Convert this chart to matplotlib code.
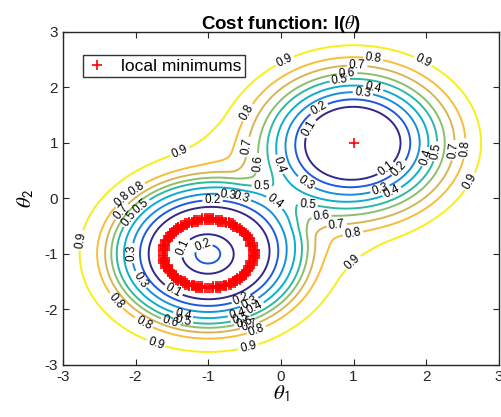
import numpy as np
import matplotlib
matplotlib.use("Agg")
import matplotlib.pyplot as plt

plt.rcParams['font.family'] = ['Liberation Sans', 'DejaVu Sans']
plt.rcParams['mathtext.fontset'] = 'stix'
plt.rcParams['axes.unicode_minus'] = False

# well centres
center_a = (-1.0, -1.0)   # ring-shaped valley
center_b = (1.0, 1.0)     # single minimum

# radial profile of each well: distance from centre -> cost
ring_r = [0.0, 0.19, 0.365, 0.62, 0.82, 0.94, 1.05, 1.16, 1.26, 1.335, 1.42, 1.53, 1.77, 2.0, 2.2, 2.5, 3.0, 3.6, 10.0]
ring_v = [0.23, 0.2, 0.1, 0.0, 0.1, 0.2, 0.3, 0.4, 0.5, 0.6, 0.7, 0.8, 0.9, 0.94, 0.963, 0.983, 0.995, 1.0, 1.0]
well_r = [0.0, 0.3, 0.45, 0.645, 0.78, 0.91, 1.03, 1.15, 1.255, 1.39, 1.54, 1.755, 2.0, 2.2, 2.5, 3.0, 3.6, 10.0]
well_v = [0.0, 0.012, 0.038, 0.1, 0.2, 0.3, 0.4, 0.5, 0.6, 0.7, 0.8, 0.9, 0.94, 0.963, 0.983, 0.995, 1.0, 1.0]
ring_radius = 0.62

levels = [0.1, 0.2, 0.3, 0.4, 0.5, 0.6, 0.7, 0.8, 0.9]
level_colors = ['#33288a', '#1f58e0', '#1690d8', '#0cadcf', '#2cb9a0',
                '#8cbf6a', '#d6b654', '#f9bd38', '#f7f018']

ticks = [-3, -2, -1, 0, 1, 2, 3]

# where the contour labels go
label_pos = [
    (-1.39, 0.84), (0.05, 2.49), (1.95, 2.45), (2.56, 0.33),
    (1.27, 2.53), (2.49, 0.9), (-0.4, 1.5),
    (1.05, 2.4), (2.33, 0.87), (-0.43, 0.92),
    (0.91, 2.25), (2.19, 0.83), (-0.33, 0.63),
    (0.81, 2.13), (2.05, 0.72), (-0.26, 0.33),
    (1.27, 1.98), (1.53, 0.11), (0.03, 0.63),
    (1.13, 1.91), (1.36, 0.18), (0.37, 0.33),
    (0.52, 1.62), (1.61, 0.56), (0.43, 1.23), (1.43, 0.56),
    (0.36, -0.21), (0.56, -0.36), (0.77, -0.48), (0.98, -0.57), (0.92, -1.06),
    (-0.06, -0.03),
    (-2.04, 0.27), (-2.15, -0.07), (-2.19, -0.25), (-2.11, -0.34), (-1.9, -0.18),
    (-2.79, -0.75), (-2.08, -0.99), (-1.9, -1.44), (-1.5, -1.71),
    (-0.94, -0.09), (-0.73, 0.02), (-0.54, 0.05),
    (-1.32, -0.9), (-1.07, -0.88),
    (-0.56, -1.78), (-0.45, -1.84), (-0.39, -1.89),
    (-2.33, -1.92), (-1.87, -2.2), (-1.53, -2.27), (-1.35, -2.23), (-1.35, -2.12),
    (-0.59, -2.1), (-0.55, -2.19), (-0.5, -2.27), (-0.42, -2.33), (-0.32, -2.43),
    (-1.73, -2.66), (-0.43, -2.77),
]


def pchip(xk, yk, x):
    # monotone cubic through the profile points, flat at r = 0
    xk = np.asarray(xk, float)
    yk = np.asarray(yk, float)
    h = np.diff(xk)
    d = np.diff(yk) / h
    m = np.zeros_like(yk)
    for k in range(1, len(xk) - 1):
        if d[k - 1] * d[k] > 0:
            w1 = 2 * h[k] + h[k - 1]
            w2 = h[k] + 2 * h[k - 1]
            m[k] = (w1 + w2) / (w1 / d[k - 1] + w2 / d[k])
    m[-1] = d[-1]
    i = np.clip(np.searchsorted(xk, x) - 1, 0, len(h) - 1)
    t = (x - xk[i]) / h[i]
    h00 = 2 * t**3 - 3 * t**2 + 1
    h10 = t**3 - 2 * t**2 + t
    h01 = -2 * t**3 + 3 * t**2
    h11 = t**3 - t**2
    return h00 * yk[i] + h10 * h[i] * m[i] + h01 * yk[i + 1] + h11 * h[i] * m[i + 1]


# cost surface
t = np.linspace(-3, 3, 481)
X, Y = np.meshgrid(t, t)
ra = np.hypot(X - center_a[0], Y - center_a[1])
rb = np.hypot(X - center_b[0], Y - center_b[1])
la = pchip(ring_r, ring_v, ra)
lb = pchip(well_r, well_v, rb)
Z = la * lb - 0.5 * (1 - la) * (1 - lb)
Z = np.clip(Z, 0, None)

# minimum points on a coarser grid: the bottom of the ring + the single well
g = np.arange(-3, 3.0001, 0.03)
GX, GY = np.meshgrid(g, g)
gr = np.hypot(GX - center_a[0], GY - center_a[1])
sel = np.abs(gr - ring_radius) < 0.027
min_x = np.concatenate([GX[sel], [center_b[0]]])
min_y = np.concatenate([GY[sel], [center_b[1]]])

fig = plt.figure(figsize=(5.01, 4.17), dpi=100)
ax = fig.add_axes([0.1257, 0.1254, 0.870, 0.7986])

cs = ax.contour(X, Y, Z, levels=levels, colors=level_colors, linewidths=1.4)
ax.clabel(cs, inline=True, fontsize=8.5, fmt='%.1f', colors='k',
          inline_spacing=2, manual=label_pos)

ax.plot(min_x, min_y, '+', color='red', markersize=7, mew=1.2,
        linestyle='none', label='local minimums')

ax.set_xlim(-3, 3)
ax.set_ylim(-3, 3)
ax.set_xticks(ticks)
ax.set_yticks(ticks)
ax.tick_params(direction='in', top=True, right=True, length=4,
               labelsize=11, color='#262626', labelcolor='#262626')
for s in ax.spines.values():
    s.set_linewidth(1.0)
    s.set_color('#262626')

ax.set_title(r'Cost function: l($\theta$)', fontsize=13.5, fontweight='bold', pad=2)
ax.set_xlabel(r'$\theta_\mathsf{1}$', fontsize=15, labelpad=0)
ax.set_ylabel(r'$\theta_\mathsf{2}$', fontsize=15, labelpad=6)

leg = ax.legend(loc='upper left', bbox_to_anchor=(0.046, 0.93), fontsize=12.5,
                frameon=True, fancybox=False, borderpad=0.2, handlelength=1.2,
                handletextpad=0.8, borderaxespad=0)
leg.get_frame().set_edgecolor('k')
leg.get_frame().set_linewidth(1.0)

fig.savefig('out.png', dpi=100)
